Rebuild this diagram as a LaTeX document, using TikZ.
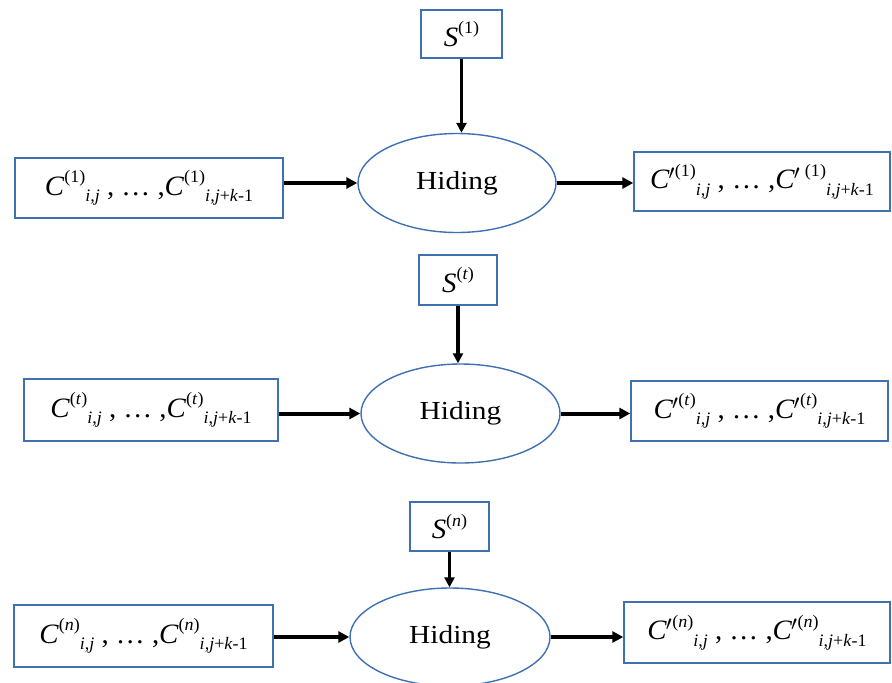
\documentclass[tikz,border=0pt]{standalone}
\usepackage{fontspec}
\usepackage{graphicx}
\setmainfont{Liberation Serif}
\usetikzlibrary{shapes.geometric,arrows.meta}
\definecolor{edgeblue}{HTML}{3E70B2}
% widened text runs
\newcommand{\HsWide}[1]{\scalebox{1.13}[1]{#1}}
\newcommand{\HsSeq}[1]{\scalebox{1.03}[1]{\fontsize{28}{32}\selectfont #1}}
% raised and lowered script parts, set after the base letter
\newcommand{\HsUp}[1]{\raisebox{0.45em}{\fontsize{17.5}{19}\selectfont #1}}
\newcommand{\HsDn}[1]{\raisebox{-0.22em}{\fontsize{17.5}{19}\selectfont #1}}
\newcommand{\HsIJ}{\textit{i},\textit{j}}
\newcommand{\HsIJK}{\textit{i},\textit{j}+\textit{k}-1}
\begin{document}
\begin{tikzpicture}[x=1pt,y=-1pt,
  every node/.style={font=\fontsize{26}{30}\selectfont, inner sep=0pt},
  blockbox/.style={draw=edgeblue, line width=1.4pt, rectangle},
  hideop/.style={draw=edgeblue, line width=1.4pt, ellipse,
    minimum width=198pt, minimum height=99pt},
  flow/.style={line width=4pt, -{Triangle[length=11pt,width=11pt]}},
  feed/.style={line width=3.2pt, -{Triangle[length=10pt,width=10pt]}}]
\useasboundingbox (0,0) rectangle (892,683);

% first row
\node[blockbox, minimum width=81pt, minimum height=48pt] (s1) at (461.5,34) {\HsSeq{\textit{S}\HsUp{(1)}}};
\node[hideop] (h1) at (457,183) {\HsWide{Hiding}};
\node[blockbox, minimum width=268pt, minimum height=60pt] (a1) at (149,188)
  {\HsSeq{\textit{C}\HsUp{(1)}\HsDn{\HsIJ} , \dots\ ,\textit{C}\HsUp{(1)}\HsDn{\HsIJK}}};
\node[blockbox, minimum width=256pt, minimum height=59pt] (b1) at (762,181.5)
  {\HsSeq{\textit{C}\kern-1pt$'$\HsUp{(1)}\HsDn{\HsIJ} , \dots\ ,\textit{C}\kern-1pt$'$\,\HsUp{(1)}\HsDn{\HsIJK}}};
\draw[feed] (s1.south) -- (s1.south |- h1.north);
\draw[flow] (a1.east |- h1.west) -- (h1.west);
\draw[flow] (h1.east) -- (b1.west |- h1.east);

% middle row
\node[blockbox, minimum width=78pt, minimum height=50pt] (s2) at (458,280) {\HsSeq{\textit{S}\HsUp{(\textit{t})}}};
\node[hideop, minimum width=199pt] (h2) at (460.5,413.5) {\HsWide{Hiding}};
\node[blockbox, minimum width=254pt, minimum height=62pt] (a2) at (151,410)
  {\HsSeq{\textit{C}\HsUp{(\textit{t})}\HsDn{\HsIJ} , \dots\ ,\textit{C}\HsUp{(\textit{t})}\HsDn{\HsIJK}}};
\node[blockbox, minimum width=257pt, minimum height=60pt] (b2) at (759.5,411)
  {\HsSeq{\textit{C}\kern-1pt$'$\HsUp{(\textit{t})}\HsDn{\HsIJ} , \dots\ ,\textit{C}\kern-1pt$'$\HsUp{(\textit{t})}\HsDn{\HsIJK}}};
\draw[feed] (s2.south) -- (s2.south |- h2.north);
\draw[flow] (a2.east |- h2.west) -- (h2.west);
\draw[flow] (h2.east) -- (b2.west |- h2.east);

% last row
\node[blockbox, minimum width=79pt, minimum height=49pt] (s3) at (449.5,526.5) {\HsSeq{\textit{S}\HsUp{(\textit{n})}}};
\node[hideop, minimum width=200pt, minimum height=98pt] (h3) at (450,637) {\HsWide{Hiding}};
\node[blockbox, minimum width=259pt, minimum height=62pt] (a3) at (143.5,636)
  {\HsSeq{\textit{C}\HsUp{(\textit{n})}\HsDn{\HsIJ} , \dots\ ,\textit{C}\HsUp{(\textit{n})}\HsDn{\HsIJK}}};
\node[blockbox, minimum width=266pt, minimum height=61pt] (b3) at (757,632.5)
  {\HsSeq{\textit{C}\kern-1pt$'$\HsUp{(\textit{n})}\HsDn{\HsIJ} , \dots\ ,\textit{C}\kern-1pt$'$\HsUp{(\textit{n})}\HsDn{\HsIJK}}};
\draw[feed] (s3.south) -- (s3.south |- h3.north);
\draw[flow] (a3.east |- h3.west) -- (h3.west);
\draw[flow] (h3.east) -- (b3.west |- h3.east);
\end{tikzpicture}
\end{document}
